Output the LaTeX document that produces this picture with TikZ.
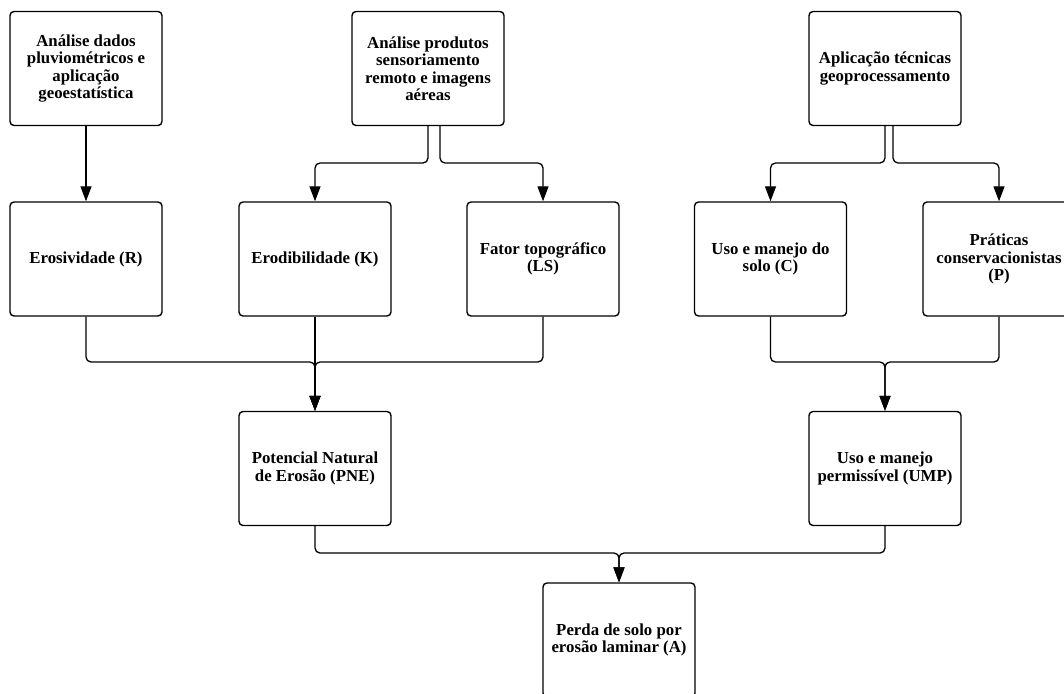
\documentclass[tikz,border=0pt]{standalone}
\usepackage{fontspec}
\setmainfont{Liberation Serif}
\usetikzlibrary{arrows.meta}
\tikzset{
  box/.style={draw, line width=1.4pt, rounded corners=4pt, minimum width=152pt, minimum height=114pt,
    align=center, inner sep=0pt, font=\bfseries\fontsize{16.8}{17.5}\selectfont},
  conn/.style={line width=1.3pt, rounded corners=5pt, -{Triangle[length=15pt,width=11pt]}},
}
\begin{document}
\begin{tikzpicture}[x=1pt,y=-1pt]
\useasboundingbox (0,0) rectangle (1064,693);
\clip (0,0) rectangle (1064,693);
% row 1
\node[box] (b1) at (86,68.5) {Análise dados\\pluviométricos e\\aplicação\\geoestatística};
\node[box] (b2) at (428,68.5) {Análise produtos\\sensoriamento\\remoto e imagens\\aéreas};
\node[box] (b3) at (885,68.5) {Aplicação técnicas\\geoprocessamento};
% row 2
\node[box] (r) at (86,259) {Erosividade (R)};
\node[box] (k) at (315,259) {Erodibilidade (K)};
\node[box] (ls) at (543,259) {Fator topográfico\\(LS)};
\node[box] (c) at (770.5,259) {Uso e manejo do\\solo (C)};
\node[box] (p) at (999,259) {Práticas\\conservacionistas\\(P)};
% row 3
\node[box] (pne) at (315,468.5) {Potencial Natural\\de Erosão (PNE)};
\node[box] (ump) at (885,468.5) {Uso e manejo\\permissível (UMP)};
% row 4
\node[box] (a) at (619,640) {Perda de solo por\\erosão laminar (A)};
% connectors row1 -> row2
\draw[conn] (b1.south) -- (r.north);
\coordinate (b2l) at (428,125);
\coordinate (b2r) at (440,125);
\draw[conn] (b2l) -- (428,163) -- (315,163) -- (k.north);
\draw[conn] (b2r) -- (440,163) -- (543,163) -- (ls.north);
\coordinate (b3l) at (885,125);
\coordinate (b3r) at (893,125);
\draw[conn] (b3l) -- (885,163) -- (770.5,163) -- (c.north);
\draw[conn] (b3r) -- (893,163) -- (999,163) -- (p.north);
% row2 -> row3
\draw[conn] (r.south) -- (86,362) -- (315,362) -- (pne.north);
\draw[conn] (ls.south) -- (543,362) -- (315,362) -- (pne.north);
\draw[conn] (k.south) -- (pne.north);
\draw[conn] (c.south) -- (770.5,362) -- (885,362) -- (ump.north);
\draw[conn] (p.south) -- (999,362) -- (885,362) -- (ump.north);
% row3 -> row4
\draw[conn] (pne.south) -- (315,553) -- (619,553) -- (a.north);
\draw[conn] (ump.south) -- (885,553) -- (619,553) -- (a.north);
\end{tikzpicture}
\end{document}
